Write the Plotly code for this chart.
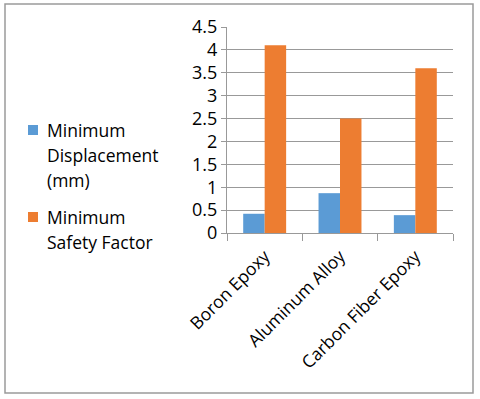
import plotly.graph_objects as go

categories = ["Boron Epoxy", "Aluminum Alloy", "Carbon Fiber Epoxy"]
min_displacement = [0.42, 0.87, 0.39]
min_safety_factor = [4.1, 2.5, 3.6]
series_lines = [["Minimum", "Displacement", "(mm)"], ["Minimum", "Safety Factor"]]
series_names = [" ".join(s) for s in series_lines]
series_colors = ["#5B9BD5", "#ED7D31"]
y_ticks = [0, 0.5, 1, 1.5, 2, 2.5, 3, 3.5, 4, 4.5]

FONT = "Open Sans"
fig = go.Figure()
fig.add_trace(go.Bar(x=categories, y=min_displacement, name=series_names[0],
                     marker=dict(color=series_colors[0], line=dict(width=0))))
fig.add_trace(go.Bar(x=categories, y=min_safety_factor, name=series_names[1],
                     marker=dict(color=series_colors[1], line=dict(width=0))))

L, R, T, B = 227, 453, 27, 233
W, H = 480, 399

def px2x(px):
    return (px - L) / (R - L)

def py2y(py):
    return (B - py) / (B - T)

fig.update_layout(
    width=W, height=H,
    margin=dict(l=L, r=W - R, t=T, b=H - B, pad=0, autoexpand=False),
    paper_bgcolor="white", plot_bgcolor="white",
    barmode="group", bargap=0.43, bargroupgap=0,
    font=dict(family=FONT, color="#000000", size=17),
    showlegend=False,
    xaxis=dict(type="category", showgrid=False, showline=True, linecolor="#999999",
               linewidth=1, ticks="outside", tickson="boundaries", ticklen=7,
               tickcolor="#999999", tickangle=-45, automargin=False,
               ticklabelstandoff=5,
               tickfont=dict(family=FONT, size=17.5, color="#000000"),
               range=[-0.5, 2.5]),
    yaxis=dict(range=[0, 4.5], tickvals=y_ticks, ticktext=[f"{v:g}" for v in y_ticks],
               showgrid=True, gridcolor="#999999", gridwidth=1,
               showline=True, linecolor="#999999", linewidth=1,
               ticks="outside", ticklen=5, tickcolor="#999999", automargin=False,
               tickfont=dict(family=FONT, size=18, color="#000000"),
               zeroline=False),
)

# outer chart border
fig.add_shape(type="rect", xref="paper", yref="paper",
              x0=px2x(5), x1=px2x(473), y0=py2y(393), y1=py2y(4),
              line=dict(color="#9a9a9a", width=1.5), fillcolor="rgba(0,0,0,0)", layer="below")

# legend (drawn manually to match the original layout)
line_h = 25
item_tops = [130, 217]
for lines, color, top in zip(series_lines, series_colors, item_tops):
    fig.add_shape(type="rect", xref="paper", yref="paper",
                  x0=px2x(28), x1=px2x(38), y0=py2y(top + 5), y1=py2y(top - 5),
                  line=dict(width=0), fillcolor=color)
    for i, txt in enumerate(lines):
        fig.add_annotation(xref="paper", yref="paper", x=px2x(45), y=py2y(top + i * line_h),
                           xanchor="left", yanchor="middle", text=txt, showarrow=False,
                           font=dict(family=FONT, size=17.5, color="#000000"))

fig.write_html("out.html", config={"displayModeBar": False},
               post_script="document.body.style.margin='0';")
